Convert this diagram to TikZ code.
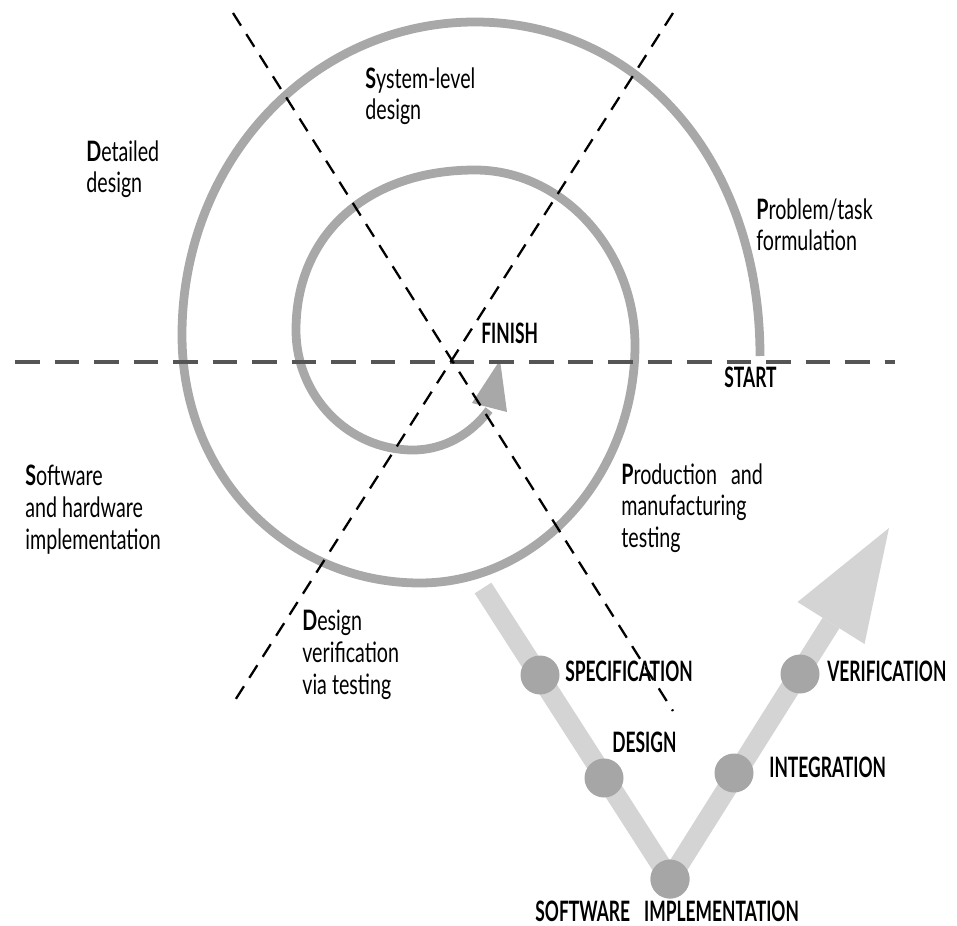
\documentclass[tikz,border=0pt]{standalone}
\usepackage{fontspec}
\setmainfont{Lato}[FakeStretch=0.70]
\newfontfamily\capsfont{Lato}[FakeStretch=0.62]
\definecolor{spiralgray}{RGB}{168,168,168}
\definecolor{barlight}{RGB}{212,212,212}
\definecolor{dotgray}{RGB}{166,166,166}
\definecolor{axisgray}{RGB}{85,85,85}
\begin{document}
\begin{tikzpicture}[x=0.02cm,y=-0.02cm,
  txt/.style={inner sep=0pt, align=left, anchor=north west, font=\fontsize{16}{18}\selectfont},
  caplbl/.style={inner sep=0pt, anchor=base west, font=\capsfont\bfseries\fontsize{16}{18}\selectfont},
  diag/.style={draw=black, line width=1.3pt, dash pattern=on 8.5pt off 5.7pt},
  horiz/.style={draw=axisgray, line width=1.9pt, dash pattern=on 14pt off 8.5pt},
  spiral/.style={draw=spiralgray, line width=5pt, line cap=butt},
  vbar/.style={draw=barlight, line width=11.3pt, line cap=butt, line join=round},
  vdot/.style={circle, fill=dotgray, minimum size=0.78cm, inner sep=0pt}]
\useasboundingbox (0,0) rectangle (957,926);

% spiral
\draw[spiral] (760,356) .. controls (760,162) and (640,22) .. (475,22)
 .. controls (313,22) and (182,160) .. (182,335)
 .. controls (182,478) and (289,583) .. (420,583)
 .. controls (539,583) and (635,474) .. (635,345)
 .. controls (635,251) and (563,170) .. (475,170)
 .. controls (368,170) and (296,234) .. (296,330)
 .. controls (296,396) and (348,450) .. (413,450)
 .. controls (445,450) and (472,433) .. (489,410);
\fill[spiralgray] (500,360) -- (472,403) -- (507,412) -- cycle;

% V model
\coordinate (vtop) at (483,588);
\coordinate (vhead) at (831,623);
\node[vdot] (impl) at (670,879) {};
\draw[vbar] (vtop) -- (impl.center) -- (vhead);
\fill[barlight] (889,528) -- (797.5,602) -- (864.5,644) -- cycle;
\node[vdot] (spec) at (540,675) {};
\node[vdot] (des) at (604,778) {};
\node[vdot] (impl2) at (670,879) {};
\node[vdot] (integ) at (734,773) {};
\node[vdot] (verif) at (800,674) {};

% labels
\node[txt] (sys) at (365,67) {\textbf{S}ystem-level\\design};
\node[txt] (det) at (86,140) {\textbf{D}etailed\\design};
\node[txt] (prob) at (756,198) {\textbf{P}roblem/task\\formulation};
\node[txt] (soft) at (25,465) {\textbf{S}oftware\\and hardware\\implementation};
\node[txt] (dver) at (302,610) {\textbf{D}esign\\verification\\via testing};
\node[txt] (prod) at (621,463) {\textbf{P}roduction\hspace{8pt}and\\manufacturing\\testing};

\node[caplbl] (finish) at (481,343) {FINISH};
\node[caplbl] (start) at (724,387) {START};
\node[caplbl] (specl) at (565,681) {SPECIFICATION};
\node[caplbl] (desl) at (612,752) {DESIGN};
\node[caplbl] (integl) at (769,777) {INTEGRATION};
\node[caplbl] (verifl) at (827,681) {VERIFICATION};
\node[caplbl] (impll) at (535,921) {SOFTWARE\hspace{8pt}IMPLEMENTATION};

% dashed axes
\coordinate (h1) at (15,362);
\coordinate (h2) at (895,362);
\coordinate (d1a) at (233,13);
\coordinate (d1b) at (673,711);
\coordinate (d2a) at (673,13);
\coordinate (d2b) at (232,705);
\draw[horiz] (h1) -- (h2);
\draw[diag] (d1a) -- (d1b);
\draw[diag] (d2a) -- (d2b);
\end{tikzpicture}
\end{document}
